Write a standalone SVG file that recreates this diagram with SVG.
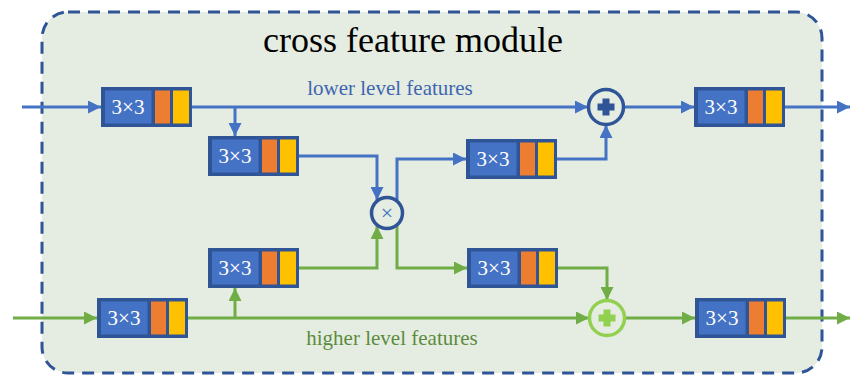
<svg xmlns="http://www.w3.org/2000/svg" xmlns:xlink="http://www.w3.org/1999/xlink" width="850" height="376" viewBox="0 0 850 376">
<style>
.lb{fill:none;stroke:#4472C4;stroke-width:3}
.lg{fill:none;stroke:#70AD47;stroke-width:3}
.t33{font-family:"Liberation Serif",serif;font-size:21px;fill:#FFFFFF;text-anchor:middle}
.title{font-family:"Liberation Serif",serif;font-size:36px;fill:#000000;text-anchor:middle}
.lab{font-family:"Liberation Serif",serif;font-size:21px;text-anchor:middle}
</style>
<defs>
<marker id="ab" markerUnits="userSpaceOnUse" markerWidth="13" markerHeight="13" refX="13" refY="6.5" orient="auto">
<path d="M0,0 L13,6.5 L0,13 z" fill="#4472C4"/>
</marker>
<marker id="ag" markerUnits="userSpaceOnUse" markerWidth="13" markerHeight="13" refX="13" refY="6.5" orient="auto">
<path d="M0,0 L13,6.5 L0,13 z" fill="#70AD47"/>
</marker>
<g id="blk">
<rect width="91" height="40" fill="#2F5597"/>
<rect x="4" y="3.5" width="46.5" height="33" fill="#4472C4"/>
<rect x="54" y="3.5" width="15" height="33" fill="#ED7D31"/>
<rect x="72" y="3.5" width="16" height="33" fill="#FFC000"/>
</g>
</defs>
<rect x="42" y="12" width="780" height="361" rx="26" ry="26" fill="#E5ECE1" stroke="#2F5597" stroke-width="3" stroke-dasharray="12 8"/>
<text class="title" x="413" y="52">cross feature module</text>
<text class="lab" x="390" y="95" fill="#3F66B0">lower level features</text>
<text class="lab" x="392" y="345" fill="#5B8C3E">higher level features</text>
<g id="connectors">
<path class="lb" d="M22,107 H101" marker-end="url(#ab)"/>
<path class="lb" d="M192,107 H588" marker-end="url(#ab)"/>
<path class="lb" d="M235,107 V136" marker-end="url(#ab)"/>
<path class="lb" d="M299,156 H377 V200" marker-end="url(#ab)"/>
<path class="lb" d="M397,200 V159 H466" marker-end="url(#ab)"/>
<path class="lb" d="M557,159 H606 V125" marker-end="url(#ab)"/>
<path class="lb" d="M624,107 H694" marker-end="url(#ab)"/>
<path class="lb" d="M785,107 H850" marker-end="url(#ab)"/>
<path class="lg" d="M13,318 H97" marker-end="url(#ag)"/>
<path class="lg" d="M188,318 H589" marker-end="url(#ag)"/>
<path class="lg" d="M235,318 V288" marker-end="url(#ag)"/>
<path class="lg" d="M299,268 H377 V226" marker-end="url(#ag)"/>
<path class="lg" d="M397,226 V268 H467" marker-end="url(#ag)"/>
<path class="lg" d="M558,268 H607 V300" marker-end="url(#ag)"/>
<path class="lg" d="M625,318 H695" marker-end="url(#ag)"/>
<path class="lg" d="M786,318 H850" marker-end="url(#ag)"/>
</g>
<g id="b1"><use xlink:href="#blk" x="101" y="87"/><text class="t33" x="128" y="114">3×3</text></g>
<g id="b2"><use xlink:href="#blk" x="208" y="136"/><text class="t33" x="235" y="163">3×3</text></g>
<g id="b3"><use xlink:href="#blk" x="466" y="139"/><text class="t33" x="493" y="166">3×3</text></g>
<g id="b4"><use xlink:href="#blk" x="208" y="248"/><text class="t33" x="235" y="275">3×3</text></g>
<g id="b5"><use xlink:href="#blk" x="467" y="248"/><text class="t33" x="494" y="275">3×3</text></g>
<g id="b6"><use xlink:href="#blk" x="97" y="298"/><text class="t33" x="124" y="325">3×3</text></g>
<g id="b7"><use xlink:href="#blk" x="694" y="87"/><text class="t33" x="721" y="114">3×3</text></g>
<g id="b8"><use xlink:href="#blk" x="695" y="298"/><text class="t33" x="722" y="325">3×3</text></g>
<g id="mul">
<circle cx="387" cy="213" r="15.5" fill="#E5ECE1" stroke="#2F5597" stroke-width="3.5"/>
<text x="387" y="220" font-family="Liberation Serif, serif" font-size="22" fill="#4472C4" text-anchor="middle">×</text>
</g>
<g id="addTop">
<circle cx="606" cy="107" r="17.5" fill="#E5ECE1" stroke="#2F5597" stroke-width="3.5"/>
<path d="M602.5,98.5 H609.5 V103.5 H614.5 V110.5 H609.5 V115.5 H602.5 V110.5 H597.5 V103.5 H602.5 z" fill="#2F5597"/>
</g>
<g id="addBot">
<circle cx="607" cy="318" r="17.5" fill="#E5ECE1" stroke="#92D050" stroke-width="3.5"/>
<path d="M603.5,309.5 H610.5 V314.5 H615.5 V321.5 H610.5 V326.5 H603.5 V321.5 H598.5 V314.5 H603.5 z" fill="#92D050"/>
</g>
</svg>
